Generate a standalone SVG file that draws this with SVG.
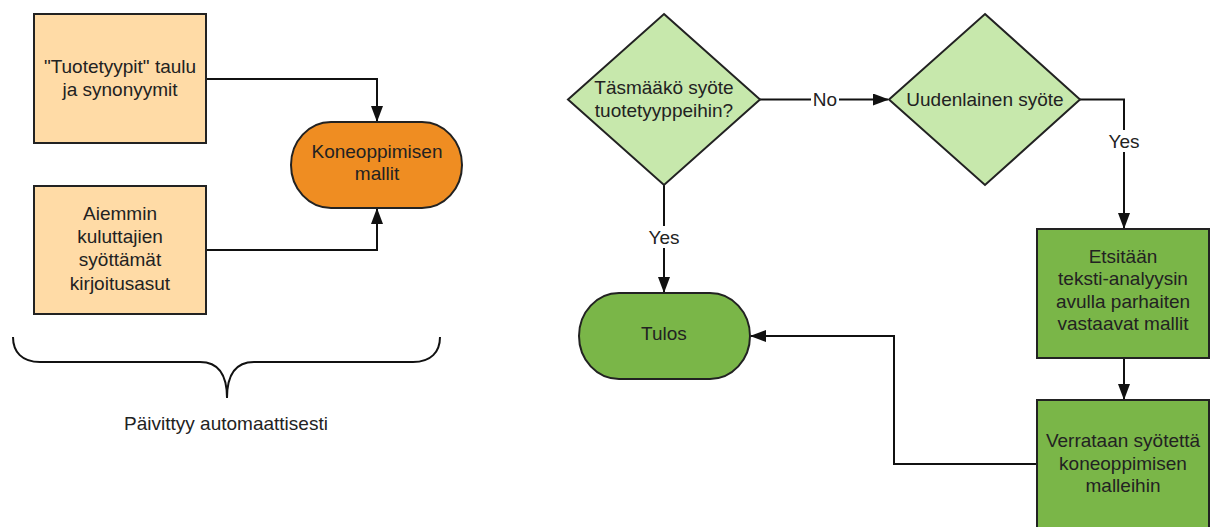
<svg xmlns="http://www.w3.org/2000/svg" width="1216" height="527" viewBox="0 0 1216 527">
<defs>
<style>
.t{font-family:"Liberation Sans",Arial,sans-serif;font-size:19px;fill:#222;text-anchor:middle}
.box{fill:#FFDBA6;stroke:#222;stroke-width:2}
.orange{fill:#EF8D22;stroke:#222;stroke-width:2}
.dia{fill:#C7E8AC;stroke:#222;stroke-width:2}
.green{fill:#7AB648;stroke:#222;stroke-width:2}
.c{fill:none;stroke:#111;stroke-width:2}
.lbl{fill:#fff}
</style>
<marker id="ah" markerUnits="userSpaceOnUse" markerWidth="16" markerHeight="12" refX="15" refY="6" orient="auto">
<path d="M0,0 L16,6 L0,12 z" fill="#111"/>
</marker>
</defs>
<rect width="1216" height="527" fill="#fff"/>
<g id="connectors">
<path class="c" d="M206,79 H377 V121" marker-end="url(#ah)"/>
<path class="c" d="M206,250 H377 V209" marker-end="url(#ah)"/>
<path class="c" d="M760,99.5 H888" marker-end="url(#ah)"/>
<path class="c" d="M1080,99.5 H1124 V228" marker-end="url(#ah)"/>
<path class="c" d="M664,185 V292" marker-end="url(#ah)"/>
<path class="c" d="M1124,358 V399" marker-end="url(#ah)"/>
<path class="c" d="M1037,464 H894 V336 H751" marker-end="url(#ah)"/>
<rect class="lbl" x="811" y="88" width="28" height="22"/>
<text class="t" x="825" y="106">No</text>
<rect class="lbl" x="646" y="226" width="36" height="22"/>
<text class="t" x="664" y="244">Yes</text>
<rect class="lbl" x="1106" y="130" width="36" height="22"/>
<text class="t" x="1124" y="148">Yes</text>
</g>
<g id="n-tuotetyypit">
<rect class="box" x="34" y="14" width="172" height="129"/>
<text class="t" x="120" y="72.5">"Tuotetyypit" taulu</text>
<text class="t" x="120" y="95.5">ja synonyymit</text>
</g>
<g id="n-aiemmin">
<rect class="box" x="34" y="186" width="172" height="128"/>
<text class="t" x="120" y="219.5">Aiemmin</text>
<text class="t" x="120" y="243">kuluttajien</text>
<text class="t" x="120" y="266">syöttämät</text>
<text class="t" x="120" y="289.5">kirjoitusasut</text>
</g>
<g id="n-koneoppimisen">
<rect class="orange" x="291" y="122" width="171" height="86" rx="40" ry="43"/>
<text class="t" x="377" y="157.5">Koneoppimisen</text>
<text class="t" x="377" y="180">mallit</text>
</g>
<g id="n-brace">
<path class="c" d="M13,337 C13,352 22,362 40,362 L200,362 C216,362 227,372 227,398 C227,372 238,362 254,362 L413,362 C431,362 440,352 440,337"/>
<text class="t" x="226" y="430">Päivittyy automaattisesti</text>
</g>
<g id="n-tasmaako">
<polygon class="dia" points="664,14 760,99.5 664,185 568,99.5"/>
<text class="t" x="664" y="94">Täsmääkö syöte</text>
<text class="t" x="664" y="117">tuotetyyppeihin?</text>
</g>
<g id="n-uudenlainen">
<polygon class="dia" points="985,14 1080,99.5 985,185 889,99.5"/>
<text class="t" x="985" y="105.5">Uudenlainen syöte</text>
</g>
<g id="n-tulos">
<rect class="green" x="579" y="293" width="171" height="86" rx="40" ry="43"/>
<text class="t" x="664" y="340">Tulos</text>
</g>
<g id="n-etsitaan">
<rect class="green" x="1037" y="229" width="172" height="129"/>
<text class="t" x="1123" y="262.5">Etsitään</text>
<text class="t" x="1123" y="285">teksti-analyysin</text>
<text class="t" x="1123" y="307.5">avulla parhaiten</text>
<text class="t" x="1123" y="330">vastaavat mallit</text>
</g>
<g id="n-verrataan">
<rect class="green" x="1037" y="400" width="172" height="140"/>
<text class="t" x="1123" y="446.5">Verrataan syötettä</text>
<text class="t" x="1123" y="469.5">koneoppimisen</text>
<text class="t" x="1123" y="492">malleihin</text>
</g>
</svg>
